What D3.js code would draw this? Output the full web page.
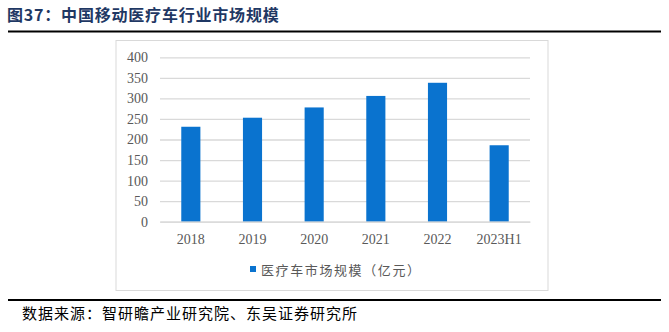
<!DOCTYPE html>
<html><head><meta charset="utf-8">
<script src="https://cdn.jsdelivr.net/npm/d3@7"></script>
<style>html,body{margin:0;padding:0;background:#fff;}svg{display:block;}</style>
</head><body>
<script>
const categories = ["2018","2019","2020","2021","2022","2023H1"];
const values = [231, 253, 278, 306, 338, 186];
const yTicks = [0,50,100,150,200,250,300,350,400];
const seriesName = "医疗车市场规模（亿元）";
const title = "图37：中国移动医疗车行业市场规模";
const source = "数据来源：智研瞻产业研究院、东吴证券研究所";

const W = 669, H = 332;
const svg = d3.select("body").append("svg").attr("width", W).attr("height", H);
const cjk = "'Noto Sans CJK SC', sans-serif";
const serif = "'Liberation Serif', 'Times New Roman', serif";

svg.append("text").attr("x", 7).attr("y", 21).text(title)
  .attr("font-family", cjk).attr("font-size", 16).attr("font-weight", "bold")
  .attr("letter-spacing", 0.8).attr("fill", "#1f3864");
svg.append("line").attr("x1", 8).attr("x2", 661).attr("y1", 31.5).attr("y2", 31.5)
  .attr("stroke", "#000").attr("stroke-width", 2);

// chart frame
svg.append("rect").attr("x", 116).attr("y", 40.5).attr("width", 432).attr("height", 250)
  .attr("fill", "none").attr("stroke", "#d9d9d9").attr("stroke-width", 1);

const x = d3.scaleBand().domain(categories).range([160, 530]).paddingInner(0.69).paddingOuter(0.345);
const y = d3.scaleLinear().domain([0, 400]).range([221.7, 57.3]);

const yAxis = svg.append("g").attr("transform", "translate(160,0)")
  .call(d3.axisLeft(y).tickValues(yTicks).tickSize(-370).tickPadding(12));
yAxis.select(".domain").remove();
yAxis.selectAll(".tick line").attr("stroke", "#d9d9d9").attr("stroke-width", 1.3);
yAxis.selectAll(".tick text").attr("font-family", serif).attr("font-size", 14).attr("fill", "#595959");

svg.append("g").selectAll("rect").data(values).join("rect")
  .attr("x", (d, i) => x(categories[i])).attr("width", x.bandwidth())
  .attr("y", d => y(d)).attr("height", d => y(0) - y(d))
  .attr("fill", "#0a73cf");

const xAxis = svg.append("g").attr("transform", `translate(0,${y(0)})`)
  .call(d3.axisBottom(x).tickSize(0).tickPadding(12));
xAxis.select(".domain").attr("stroke", "#d9d9d9").attr("stroke-width", 1.3);
xAxis.selectAll(".tick text").attr("font-family", serif).attr("font-size", 14).attr("fill", "#595959");

// legend
svg.append("rect").attr("x", 250).attr("y", 266).attr("width", 6).attr("height", 6).attr("fill", "#0a73cf");
svg.append("text").attr("x", 261).attr("y", 275).text(seriesName)
  .attr("font-family", cjk).attr("font-size", 13).attr("letter-spacing", 1.6).attr("fill", "#595959");

svg.append("line").attr("x1", 8).attr("x2", 661).attr("y1", 300).attr("y2", 300)
  .attr("stroke", "#000").attr("stroke-width", 2);
svg.append("text").attr("x", 22).attr("y", 319).text(source)
  .attr("font-family", cjk).attr("font-size", 15).attr("letter-spacing", 1).attr("fill", "#000");
</script>
</body></html>
